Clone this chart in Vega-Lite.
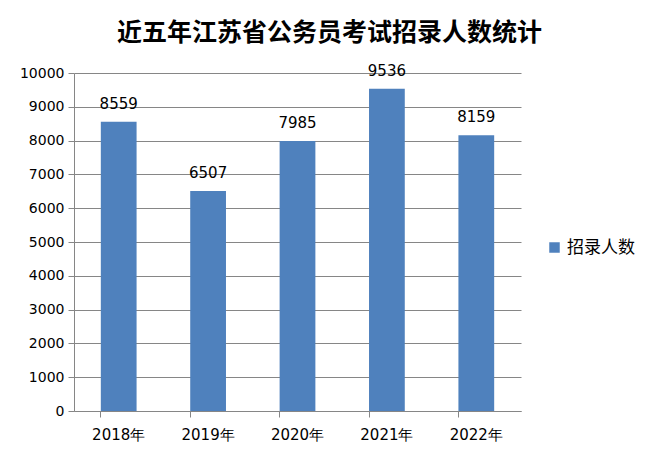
{
  "$schema": "https://vega.github.io/schema/vega-lite/v6.json",
  "autosize": "none",
  "width": 447,
  "height": 338,
  "padding": {"left": 74, "top": 73, "right": 141, "bottom": 53},
  "background": "white",
  "title": {
    "text": "近五年江苏省公务员考试招录人数统计",
    "font": "Noto Sans CJK SC",
    "fontSize": 25,
    "fontWeight": "bold",
    "color": "#000000",
    "anchor": "middle",
    "frame": "group",
    "dx": 32,
    "offset": 18
  },
  "data": {
    "values": [
      {"year": "2018年", "count": 8559, "series": "招录人数"},
      {"year": "2019年", "count": 6507, "series": "招录人数"},
      {"year": "2020年", "count": 7985, "series": "招录人数"},
      {"year": "2021年", "count": 9536, "series": "招录人数"},
      {"year": "2022年", "count": 8159, "series": "招录人数"}
    ]
  },
  "config": {
    "view": {"stroke": null},
    "font": "DejaVu Sans",
    "axis": {
      "labelFont": "DejaVu Sans",
      "labelColor": "#000000",
      "domainColor": "#868686",
      "tickColor": "#868686",
      "gridColor": "#868686",
      "labelFontSize": 14
    }
  },
  "encoding": {
    "x": {
      "field": "year",
      "type": "nominal",
      "sort": null,
      "scale": {"paddingInner": 0.6, "paddingOuter": 0.3},
      "axis": {
        "title": null,
        "labelAngle": 0,
        "labelFont": "DejaVu Sans",
        "labelFontSize": 15,
        "labelPadding": 10,
        "bandPosition": 0,
        "ticks": true,
        "tickSize": 6
      }
    },
    "y": {
      "field": "count",
      "type": "quantitative",
      "scale": {"domain": [0, 10000], "nice": false},
      "axis": {
        "title": null,
        "format": "d",
        "values": [0, 1000, 2000, 3000, 4000, 5000, 6000, 7000, 8000, 9000, 10000],
        "grid": true,
        "tickSize": 6,
        "labelPadding": 4
      }
    }
  },
  "layer": [
    {
      "mark": {"type": "bar", "color": "#4F81BD"},
      "encoding": {
        "color": {
          "field": "series",
          "type": "nominal",
          "scale": {"range": ["#4F81BD"]},
          "legend": {
            "title": null,
            "orient": "none",
            "legendX": 472,
            "legendY": 166,
            "symbolType": "square",
            "symbolSize": 110,
            "symbolStrokeWidth": 0,
            "labelFont": "Noto Sans CJK SC",
            "labelFontSize": 17,
            "labelColor": "#000000"
          }
        }
      }
    },
    {
      "mark": {"type": "text", "baseline": "bottom", "dy": -10, "fontSize": 15, "font": "DejaVu Sans", "color": "#000000"},
      "encoding": {"text": {"field": "count", "type": "quantitative", "format": "d"}}
    }
  ]
}
